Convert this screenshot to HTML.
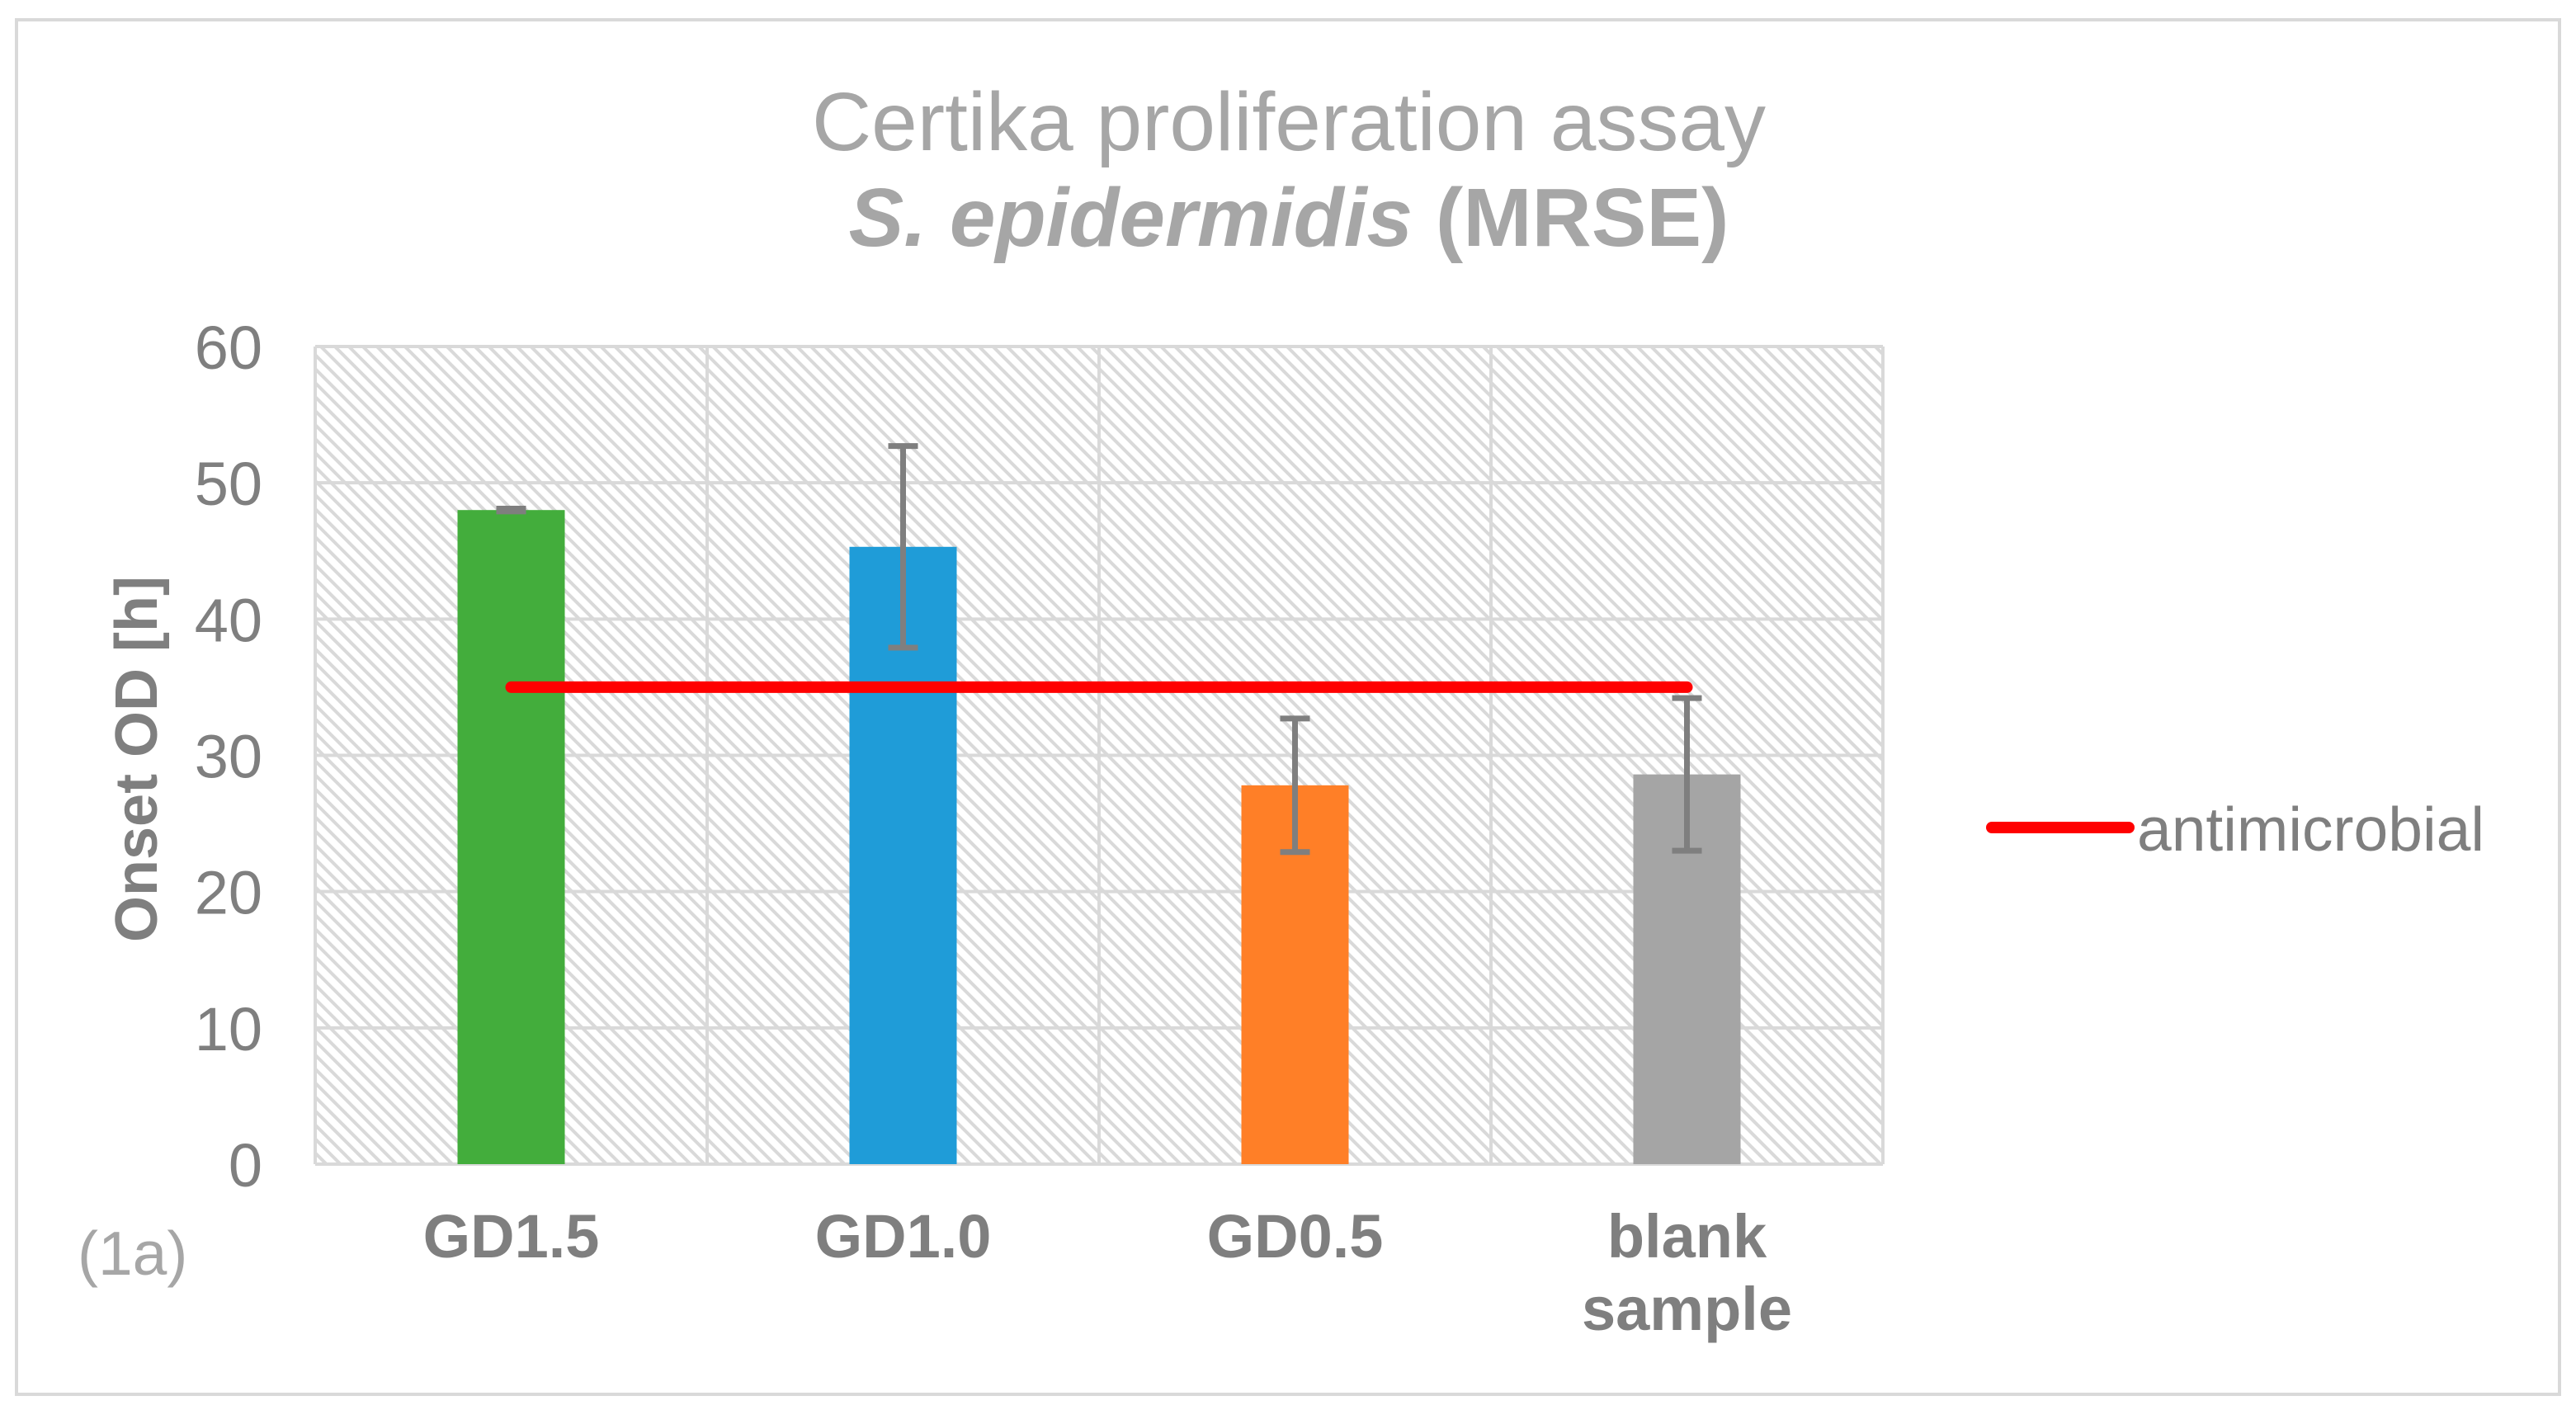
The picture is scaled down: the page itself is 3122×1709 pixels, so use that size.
<!DOCTYPE html>
<html><head><meta charset="utf-8"><style>
html,body{margin:0;padding:0;background:#fff;}
svg{display:block;font-family:"Liberation Sans",Arial,sans-serif;}
</style></head><body>
<svg id="chart" width="3122" height="1709" viewBox="0 0 3122 1709" xmlns="http://www.w3.org/2000/svg">
<defs>
<pattern id="hatch" patternUnits="userSpaceOnUse" width="12" height="12" patternTransform="rotate(-45)">
<rect width="12" height="12" fill="#fff"/>
<rect x="0" y="0" width="4" height="12" fill="#d9d9d9"/>
</pattern>
</defs>
<rect x="20" y="24" width="3082" height="1666" fill="#fff" stroke="#d9d9d9" stroke-width="4"/>
<text x="1562" y="182" text-anchor="middle" font-size="100" fill="#a6a6a6">Certika proliferation assay</text>
<text x="1562" y="298" text-anchor="middle" font-size="100" font-weight="bold" fill="#a6a6a6"><tspan font-style="italic">S. epidermidis</tspan> (MRSE)</text>
<rect x="382" y="420" width="1900" height="991" fill="url(#hatch)"/>
<g id="grid"></g>
<g id="bars"></g>
<g id="errs"></g>
<g id="line"></g>
<g id="ticks"></g>
<g id="cats"></g>
<text transform="translate(190,920) rotate(-90)" text-anchor="middle" font-size="72" font-weight="bold" fill="#7f7f7f">Onset OD [h]</text>
<line x1="2414" y1="1003" x2="2580" y2="1003" stroke="#ff0000" stroke-width="14" stroke-linecap="round"/>
<text x="2590" y="1031" font-size="75" fill="#7f7f7f">antimicrobial</text>
<text x="94" y="1545" font-size="75" fill="#a6a6a6">(1a)</text>
</svg>
<script>
const categories=[["GD1.5"],["GD1.0"],["GD0.5"],["blank","sample"]];
const values=[48,45.3,27.8,28.6];
const errors=[0.1,7.4,4.9,5.6];
const colors=["#43ad3c","#1f9cd8","#ff7f27","#a5a5a5"];
const antimicrobial=[35,35,35,35];
const yTicks=[0,10,20,30,40,50,60];
const NS="http://www.w3.org/2000/svg";
const L=382,R=2282,T=420,B=1411,yMax=60;
const y=v=>B-(v/yMax)*(B-T);
const band=(R-L)/categories.length;
const x=i=>L+band*(i+0.5);
function mk(tag,attrs,parent){const e=document.createElementNS(NS,tag);for(const k in attrs)e.setAttribute(k,attrs[k]);document.getElementById(parent).appendChild(e);return e;}
yTicks.forEach((t,i)=>{
  const g=mk("line",{x1:L,x2:R,y1:y(t),y2:y(t),stroke:"#d9d9d9","stroke-width":4},"grid");
  
  
  const tx=mk("text",{x:318,y:y(t)+27,"text-anchor":"end","font-size":74,fill:"#7f7f7f"},"ticks");
  tx.textContent=t;
  
  
});
for(let i=0;i<=categories.length;i++){
  const v=mk("line",{x1:L+band*i,x2:L+band*i,y1:T,y2:B,stroke:"#d9d9d9","stroke-width":4},"grid");
  
  
}
const bw=130;
values.forEach((v,i)=>{
  const b=mk("rect",{x:x(i)-bw/2,y:y(v),width:bw,height:B-y(v),fill:colors[i]},"bars");
  
  
  const e=errors[i],cx=x(i);
  const p=mk("path",{d:`M${cx},${y(v+e)}V${y(v-e)}M${cx-18},${y(v+e)}H${cx+18}M${cx-18},${y(v-e)}H${cx+18}`,stroke:"#7f7f7f","stroke-width":7,fill:"none"},"errs");
  
  
  categories[i].forEach((s,j)=>{
    const t=mk("text",{x:cx,y:1524+j*88,"text-anchor":"middle","font-size":74,"font-weight":"bold",fill:"#7f7f7f"},"cats");
    t.textContent=s;
    
    
  });
});
const pl=mk("polyline",{points:antimicrobial.map((v,i)=>x(i)+","+y(v)).join(" "),stroke:"#ff0000","stroke-width":14,fill:"none","stroke-linecap":"round"},"line");


</script>
</body></html>
